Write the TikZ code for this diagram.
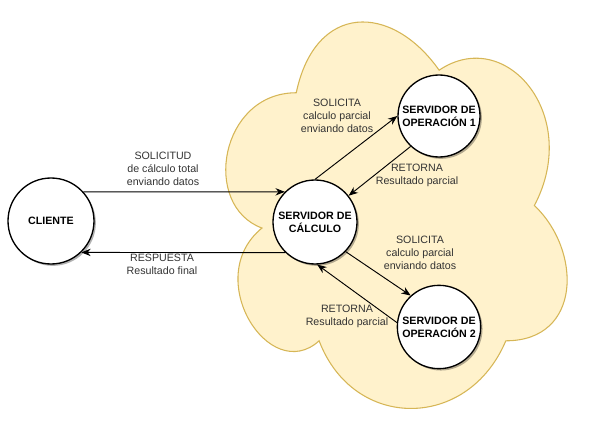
\documentclass[tikz,border=0pt]{standalone}
\usepackage{fontspec}
\setmainfont{Liberation Sans}
\usetikzlibrary{arrows.meta,shadows}
\definecolor{cloudfill}{HTML}{FFF2CC}
\definecolor{cloudline}{HTML}{D6B656}
\definecolor{labeltext}{HTML}{333333}
\tikzset{
  srvnode/.style={circle, draw=black, line width=1pt, fill=white, minimum size=63pt, inner sep=0pt,
    align=center, font=\fontsize{8}{9.75}\selectfont\bfseries,
    drop shadow={shadow xshift=1.4pt, shadow yshift=-1.4pt, fill=black, opacity=0.3}},
  lbl/.style={align=center, text=labeltext, font=\fontsize{8}{9.75}\selectfont, inner sep=0pt},
  arr/.style={draw=black, line width=0.7pt, -{Stealth[length=7pt,width=5.5pt]}}
}
\begin{document}
\begin{tikzpicture}[x=0.75pt,y=-0.75pt]
\useasboundingbox (0,0) rectangle (602,428);
% cloud
\draw[fill=cloudfill, draw=cloudline, line width=0.8pt]
  (296.25,92.75)
  .. controls (220.05,92.75) and (201,205.5) .. (261.96,228.05)
  .. controls (201,277.66) and (269.58,385.9) .. (319.11,340.8)
  .. controls (353.4,431) and (467.7,431) .. (505.8,340.8)
  .. controls (582,340.8) and (582,250.6) .. (534.375,205.5)
  .. controls (582,115.3) and (505.8,25.1) .. (439.125,70.2)
  .. controls (391.5,2.55) and (315.3,2.55) .. (296.25,92.75) -- cycle;
% nodes
\node[srvnode, minimum size=64.5pt] (cli) at (51,221) {CLIENTE};
\node[srvnode] (srv) at (315,222) {SERVIDOR DE\\CÁLCULO};
\node[srvnode, minimum size=61.5pt] (op1) at (439,116) {SERVIDOR DE\\OPERACIÓN 1};
\node[srvnode, minimum size=62.5pt] (op2) at (439,327) {SERVIDOR DE\\OPERACIÓN 2};
% connectors
\draw[arr] (cli.42) -- (srv.135);
\draw[arr] (srv.-134) -- (cli.-46);
\draw[arr] (srv.north) -- (op1.west);
\draw[arr] (op1.227) -- (srv.38);
\draw[arr] (srv.-44) -- (op2.132);
\draw[arr] (op2.174) -- (srv.-87);
% labels
\node[lbl] (lsol) at (163,169) {SOLICITUD\\de cálculo total\\enviando datos};
\node[lbl] (lresp) at (162,264) {RESPUESTA\\Resultado final};
\node[lbl] (ls1) at (337,116) {SOLICITA\\calculo parcial\\enviando datos};
\node[lbl] (lr1) at (417,175) {RETORNA\\Resultado parcial};
\node[lbl] (ls2) at (420,253) {SOLICITA\\calculo parcial\\enviando datos};
\node[lbl] (lr2) at (347,316) {RETORNA\\Resultado parcial};
\end{tikzpicture}
\end{document}
